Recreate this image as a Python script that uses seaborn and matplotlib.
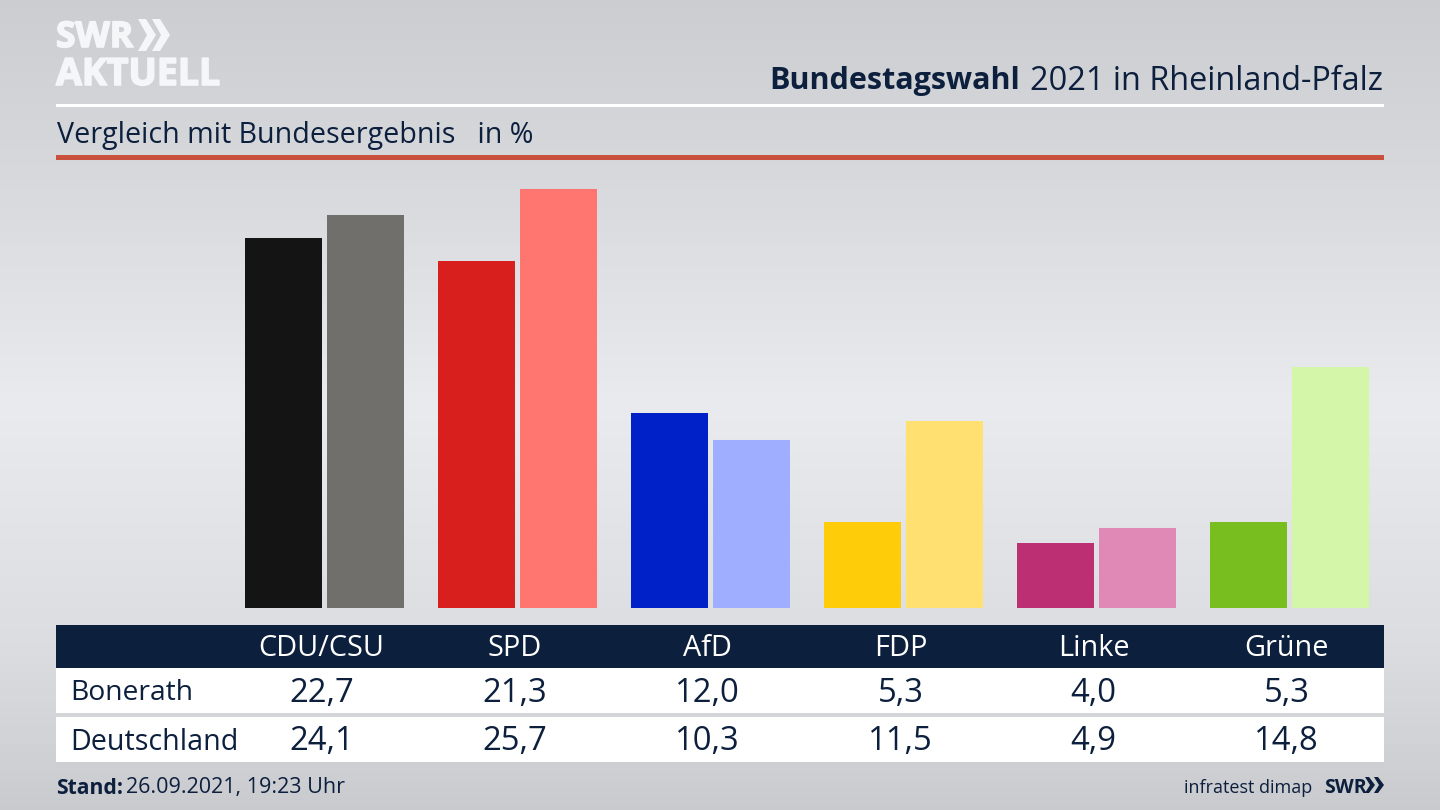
import numpy as np
import pandas as pd
import matplotlib.pyplot as plt
import matplotlib.patheffects as pe
from matplotlib.patches import Rectangle, Polygon
import seaborn as sns

# Werte
parteien = ['CDU/CSU', 'SPD', 'AfD', 'FDP', 'Linke', 'Grüne']
bonerath = [22.7, 21.3, 12.0, 5.3, 4.0, 5.3]
deutschland = [24.1, 25.7, 10.3, 11.5, 4.9, 14.8]
farben_bonerath = ['#141414', '#D81F1D', '#0020C8', '#FFCC0A', '#BC2F73', '#78BE1E']
farben_deutschland = ['#706F6C', '#FF7570', '#9FAEFF', '#FFE070', '#E088B6', '#D3F6A8']

NAVY = '#0C1F3D'
sns.set_theme(style='white')
plt.rcParams['font.family'] = ['Open Sans', 'DejaVu Sans']

W, H = 1440, 810
fig = plt.figure(figsize=(14.4, 8.1), dpi=100)

# Hintergrund mit Verlauf
bg = fig.add_axes([0, 0, 1, 1], zorder=0)
stops_y = [0, 0.2, 0.5, 0.8, 1]
stops_v = [0.80, 0.84, 0.915, 0.86, 0.79]
verlauf = np.interp(np.linspace(0, 1, 200), stops_y, stops_v)
rgb = np.stack([verlauf, verlauf + 0.006, verlauf + 0.02], axis=1).clip(0, 1)[:, None, :]
bg.imshow(rgb, aspect='auto', extent=[0, W, H, 0])
bg.axis('off')

# Balken
daten = pd.DataFrame({
    'Partei': parteien * 2,
    'Gebiet': ['Bonerath'] * 6 + ['Deutschland'] * 6,
    'Wert': bonerath + deutschland,
})
oben, unten = 165, 608
px_pro_punkt = 16.29
ax = fig.add_axes([0, 1 - unten / H, 1, (unten - oben) / H], zorder=1)
ax.patch.set_alpha(0)
sns.barplot(data=daten, x='Partei', y='Wert', hue='Gebiet', order=parteien,
            width=0.85, gap=0.06, legend=False, linewidth=0, ax=ax)
for balken, farbe in zip(ax.containers[0], farben_bonerath):
    balken.set_facecolor(farbe)
    balken.set_edgecolor('none')
for balken, farbe in zip(ax.containers[1], farben_deutschland):
    balken.set_facecolor(farbe)
    balken.set_edgecolor('none')
ax.set_xlim((0 - 324.5) / 193, (W - 324.5) / 193)
ax.set_ylim(0, (unten - oben) / px_pro_punkt)
ax.axis('off')

# Overlay in Pixelkoordinaten
ov = fig.add_axes([0, 0, 1, 1], zorder=2)
ov.set_xlim(0, W)
ov.set_ylim(H, 0)
ov.axis('off')
ov.patch.set_alpha(0)

# Logo
dick = [pe.withStroke(linewidth=1.2, foreground='#F5F6F8')]
ov.text(56, 38, 'SWR', fontsize=25.5, fontweight='bold', color='#F5F6F8', va='center', ha='left', path_effects=dick)
ov.text(56, 75, 'AKTUELL', fontsize=27, fontweight='bold', color='#F5F6F8', va='center', ha='left', path_effects=dick)
for x0 in [138, 152]:
    ov.add_patch(Polygon([[x0, 19], [x0 + 8, 19], [x0 + 18, 35], [x0 + 8, 51], [x0, 51], [x0 + 9, 35]],
                         color='#F5F6F8', lw=0))

# Kopf
ov.text(1383, 81, '2021 in Rheinland-Pfalz', fontsize=23.4, color=NAVY, ha='right', va='center')
ov.text(1020, 81, 'Bundestagswahl', fontsize=22, fontweight='bold', color=NAVY, ha='right', va='center')
ov.add_patch(Rectangle((56, 104), 1328, 3, color='white', lw=0))
ov.text(57, 135, 'Vergleich mit Bundesergebnis   in %', fontsize=20.6, color=NAVY, ha='left', va='center')
ov.add_patch(Rectangle((56, 155), 1328, 5, color='#C8503C', lw=0))

# Tabelle
ov.add_patch(Rectangle((56, 625), 1328, 43, color=NAVY, lw=0))
ov.add_patch(Rectangle((56, 668), 1328, 45, color='white', lw=0))
ov.add_patch(Rectangle((56, 717), 1328, 45, color='white', lw=0))
ov.text(70, 693, 'Bonerath', fontsize=20.3, color=NAVY, va='center')
ov.text(70, 742, 'Deutschland', fontsize=20.6, color=NAVY, va='center')
for i, partei in enumerate(parteien):
    x = 321.5 + 193 * i
    ov.text(x, 649, partei, fontsize=20.8, color='white', ha='center', va='center')
    ov.text(x, 693, f'{bonerath[i]:.1f}'.replace('.', ','), fontsize=23.6, color=NAVY, ha='center', va='center')
    ov.text(x, 742, f'{deutschland[i]:.1f}'.replace('.', ','), fontsize=23.6, color=NAVY, ha='center', va='center')

# Fusszeile
ov.text(56, 788, 'Stand:', fontsize=15.2, fontweight='bold', color=NAVY, va='center')
ov.text(126, 788, '26.09.2021, 19:23 Uhr', fontsize=15.5, color=NAVY, va='center')
ov.text(1312, 788, 'infratest dimap', fontsize=13, color=NAVY, ha='right', va='center')
ov.text(1324, 788, 'SWR', fontsize=14, fontweight='bold', color=NAVY, ha='left', va='center')
for x0 in [1365, 1374]:
    ov.add_patch(Polygon([[x0, 777], [x0 + 4, 777], [x0 + 10, 785], [x0 + 4, 793], [x0, 793], [x0 + 5, 785]],
                         color=NAVY, lw=0))

fig.savefig('out.png', dpi=100)
